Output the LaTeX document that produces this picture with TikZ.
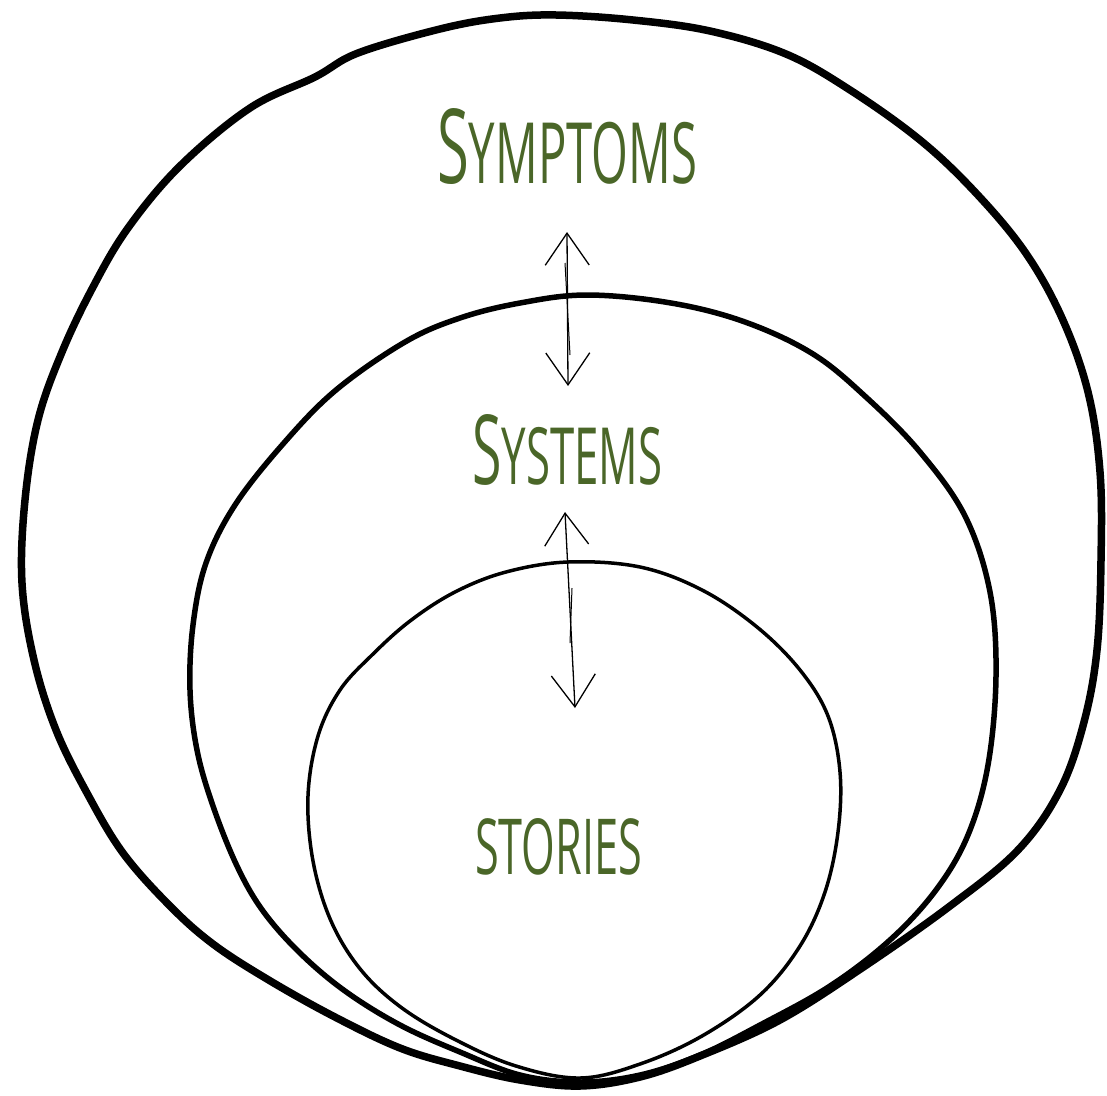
\documentclass[tikz,border=0pt]{standalone}
\usepackage{fontspec}
\usepackage{graphicx}
\newfontfamily\handfont{Open Sans}
\usetikzlibrary{arrows.meta}
\definecolor{lbl}{RGB}{74,102,40}
\begin{document}
\begin{tikzpicture}[x=1pt,y=-1pt,
  ring/.style={draw=black, line join=round, line cap=round},
  lab/.style={inner sep=0pt, anchor=base west, text=lbl},
  conn/.style={line width=1.3pt, {Straight Barb[length=32pt,width=44pt]}-{Straight Barb[length=32pt,width=44pt]}},
  trace/.style={line width=1pt},
  ]
\useasboundingbox[fill=white] (0,0) rectangle (1107,1095);

% outer circle
\draw[ring, line width=7.5pt] plot[smooth cycle, tension=0.6] coordinates {
 (556,15) (633,20) (710,31) (786,54) (850,90) (920,140) (975,192) (1025,252)
 (1062,318) (1088,392) (1100,472) (1101,560) (1097,650) (1084,722) (1060,790)
 (1018,850) (950,906) (862,968) (780,1020) (700,1056) (640,1077) (580,1086)
 (520,1080) (460,1066) (400,1048) (333,1016) (267,979) (213,944) (170,906)
 (123,853) (87,793) (56,730) (34,660) (22,583) (25,500) (38,420) (62,352)
 (93,287) (128,228) (180,166) (250,108) (315,77) (358,53) (440,29) (500,18)};

% middle circle
\draw[ring, line width=5.5pt] plot[smooth cycle, tension=0.6] coordinates {
 (587,295) (671,303) (745,322) (813,354) (867,398) (920,452) (965,516) (990,592)
 (996,676) (988,765) (968,835) (936,890) (890,940) (830,986) (760,1025)
 (700,1055) (640,1075) (580,1082) (520,1075) (460,1052) (400,1025) (345,991)
 (300,953) (263,911) (237,866) (213,806) (197,750) (190,690) (193,625)
 (206,563) (235,505) (283,444) (336,390) (405,342) (460,318) (520,303)};

% inner circle
\draw[ring, line width=3.5pt] plot[smooth cycle, tension=0.6] coordinates {
 (568,562) (640,567) (702,590) (757,627) (800,670) (828,716) (840,772)
 (838,832) (825,892) (800,946) (760,995) (702,1036) (640,1064) (580,1078)
 (516,1066) (456,1040) (402,1008) (361,970) (331,921) (313,861) (308,796)
 (318,736) (340,690) (372,655) (410,621) (455,592) (506,572)};

% labels
\node[lab] (symptoms) at (437,183) {\resizebox{260pt}{75pt}{\handfont\fontsize{60}{60}\selectfont S\fontsize{49}{49}\selectfont YMPTOMS}};
\node[lab] (systems) at (472,484) {\resizebox{190pt}{70pt}{\handfont\fontsize{60}{60}\selectfont S\fontsize{49}{49}\selectfont YSTEMS}};
\node[lab] (stories) at (475,874) {\resizebox{167pt}{56pt}{\handfont\fontsize{49}{49}\selectfont STORIES}};

% connectors
\coordinate (a1s) at (567,232);
\coordinate (a1e) at (568,386);
\coordinate (a2s) at (565,512);
\coordinate (a2e) at (575,708);
\coordinate (t1s) at (565,263);
\coordinate (t1e) at (570,355);
\coordinate (t2s) at (572,588);
\coordinate (t2e) at (570,643);
\draw[conn] (a1s) -- (a1e);
\draw[conn] (a2s) -- (a2e);
\draw[trace] (t1s) -- (t1e);
\draw[trace] (t2s) -- (t2e);
\end{tikzpicture}
\end{document}
